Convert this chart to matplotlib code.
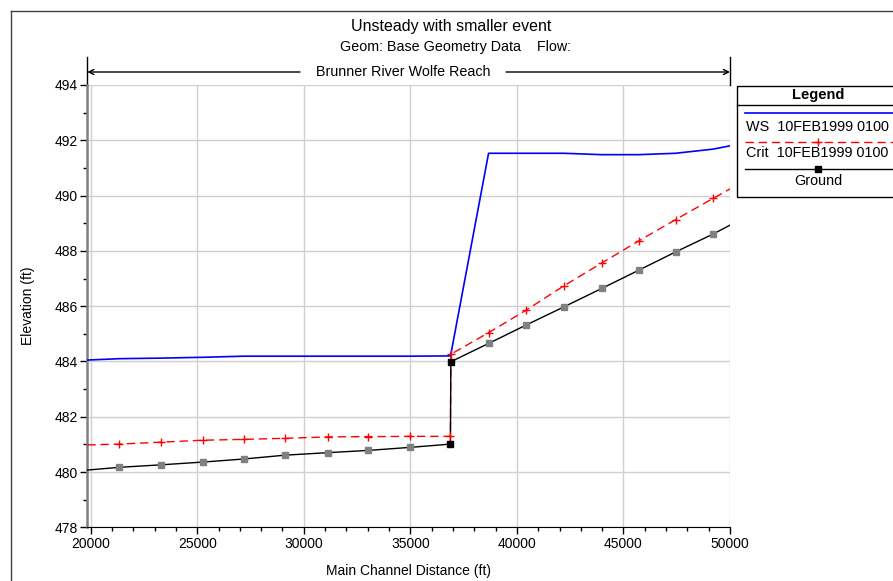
import matplotlib
matplotlib.use("Agg")
import matplotlib.pyplot as plt
import matplotlib.transforms as mtransforms
from matplotlib.ticker import MultipleLocator
from matplotlib.patches import Rectangle

plt.rcParams["font.family"] = ["Liberation Sans", "DejaVu Sans"]

# 단면 위치 (ft) 와 각 프로파일 값
station = [19840, 21344, 23304, 25263, 27171, 29131, 31118, 32998, 34972, 36880,
           36900, 38670, 40442, 42195, 43981, 45719, 47444, 49211, 50000]
ws = [484.05, 484.10, 484.12, 484.15, 484.19, 484.19, 484.19, 484.19, 484.19, 484.20,
      484.26, 491.53, 491.53, 491.53, 491.48, 491.48, 491.53, 491.68, 491.80]
crit = [480.98, 481.01, 481.08, 481.15, 481.18, 481.22, 481.27, 481.28, 481.29, 481.29,
        484.26, 485.04, 485.86, 486.73, 487.56, 488.36, 489.13, 489.90, 490.24]
ground = [480.07, 480.17, 480.26, 480.36, 480.47, 480.61, 480.70, 480.78, 480.89, 481.01,
          483.99, 484.65, 485.32, 485.97, 486.64, 487.30, 487.96, 488.61, 488.93]

title = "Unsteady with smaller event"
subtitle = "Geom: Base Geometry Data    Flow:"
reach = "Brunner River Wolfe Reach"
legend_labels = ["WS  10FEB1999 0100", "Crit  10FEB1999 0100", "Ground"]

W, H = 893, 581
fig = plt.figure(figsize=(W / 100, H / 100), dpi=100)

# 픽셀 좌표용 오버레이
over = fig.add_axes([0, 0, 1, 1])
over.set_xlim(0, W)
over.set_ylim(H, 0)
over.axis("off")

# 바깥 테두리
over.plot([10.5, W], [11, 11], color="#404040", lw=1)
over.plot([10.5, 10.5], [11, H], color="#404040", lw=1)

left, right, top, bottom = 87.3, 730, 85, 527.3
ax = fig.add_axes([left / W, (H - bottom) / H, (right - left) / W, (bottom - top) / H])
x0, x1 = 19840, 50000
ax.set_xlim(x0, x1)
ax.set_ylim(478, 494)

inner = list(range(1, 9)) + list(range(11, 18))
ax.plot(station, ws, color="blue", lw=1.2, zorder=3)
ax.plot(station, crit, color="red", lw=1, dashes=(6, 3.5), zorder=3)
ax.plot(station, crit, ls="none", marker="+", ms=6, mew=1, color="red",
        markevery=inner + [9, 10], zorder=4)
ax.plot(station, ground, color="black", lw=1, zorder=3)
ax.plot(station, ground, ls="none", marker="s", ms=5, mfc="gray", mec="gray",
        markevery=inner, zorder=4)
ax.plot(station, ground, ls="none", marker="s", ms=5, mfc="black", mec="black",
        markevery=[9, 10], zorder=4)

ax.xaxis.set_major_locator(MultipleLocator(5000))
ax.xaxis.set_minor_locator(MultipleLocator(1000))
ax.yaxis.set_major_locator(MultipleLocator(2))
ax.yaxis.set_minor_locator(MultipleLocator(1))
ax.grid(True, which="major", color="#d0d0d0", lw=1)
ax.tick_params(which="major", direction="out", length=5, width=1, labelsize=10, pad=2)
ax.tick_params(which="minor", direction="out", length=3, width=1)
ax.spines["top"].set_visible(False)
ax.spines["right"].set_visible(False)
ax.spines["left"].set_color("#808080")
ax.spines["left"].set_linewidth(1.8)
ax.spines["bottom"].set_color("black")
ax.set_xlabel("Main Channel Distance (ft)", fontsize=10, labelpad=9)
ax.set_ylabel("Elevation (ft)", fontsize=10, labelpad=14)

# 구간 화살표 (가운데 글자 자리는 비움)
trans = mtransforms.blended_transform_factory(ax.transData, ax.transAxes)
ya = (bottom - 72) / (bottom - top)
gap_l = x0 + (300 - left) / (right - left) * (x1 - x0)
gap_r = x0 + (506 - left) / (right - left) * (x1 - x0)
ax.annotate("", xy=(x0, ya), xytext=(gap_l, ya), xycoords=trans, textcoords=trans,
            arrowprops=dict(arrowstyle="->", color="black", lw=1,
                            shrinkA=0, shrinkB=0, mutation_scale=9))
ax.annotate("", xy=(x1, ya), xytext=(gap_r, ya), xycoords=trans, textcoords=trans,
            arrowprops=dict(arrowstyle="->", color="black", lw=1,
                            shrinkA=0, shrinkB=0, mutation_scale=9))
for xe in (x0, x1):
    ax.plot([xe, xe], [1.0, (bottom - 57) / (bottom - top)], color="black", lw=1,
            transform=trans, clip_on=False)
ax.text((gap_l + gap_r) / 2, ya, reach, transform=trans, ha="center", va="center",
        fontsize=10.3)

fig.text(451 / W, 1 - 27 / H, title, ha="center", va="center", fontsize=11.5)
fig.text(455 / W, 1 - 47 / H, subtitle, ha="center", va="center", fontsize=10.3)

# 범례 상자
over.add_patch(Rectangle((737, 86), 170, 111, fill=False, ec="black", lw=1, zorder=5))
over.plot([737, W], [105, 105], color="black", lw=1)
over.text(818, 95, "Legend", ha="center", va="center", fontsize=10.5, fontweight="bold")
over.plot([745, W], [113, 113], color="blue", lw=1.2)
over.text(746, 127, legend_labels[0], ha="left", va="center", fontsize=10.4)
over.plot([745, W], [142, 142], color="red", lw=1, dashes=(6, 3.5))
over.plot([818], [142], marker="+", ms=6, mew=1, color="red")
over.text(746, 153, legend_labels[1], ha="left", va="center", fontsize=10.4)
over.plot([745, W], [169, 169], color="black", lw=1)
over.plot([818], [169], marker="s", ms=5, color="black")
over.text(818, 181, legend_labels[2], ha="center", va="center", fontsize=10.4)

fig.savefig("out.png", dpi=100)
